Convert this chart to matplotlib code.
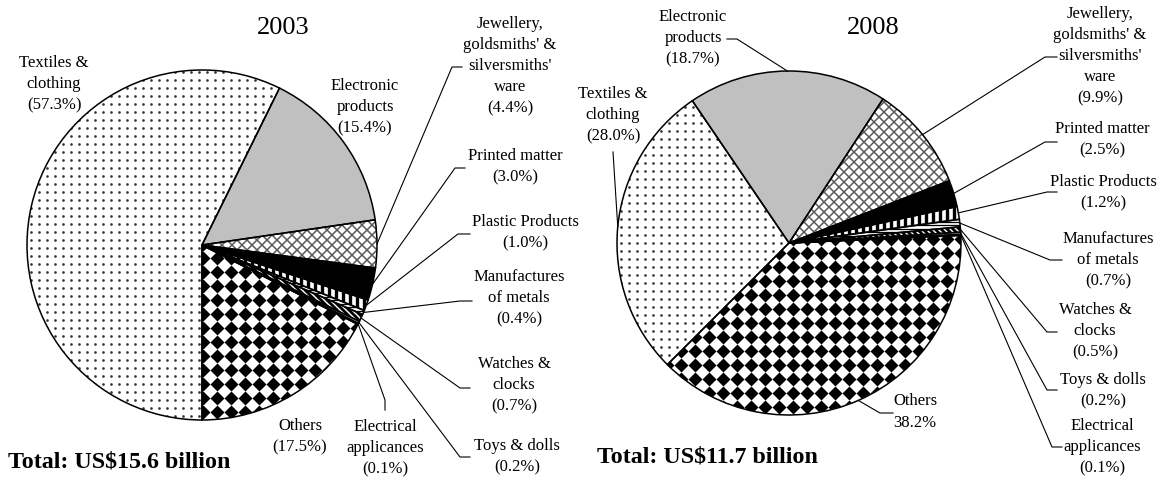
import numpy as np
import matplotlib
matplotlib.use("Agg")
import matplotlib.pyplot as plt
from matplotlib.patches import Wedge
from matplotlib.collections import LineCollection

plt.rcParams['font.family'] = ['Liberation Serif', 'DejaVu Serif']

# ---------------- data ----------------
categories = ["Textiles &\nclothing", "Electronic\nproducts",
              "Jewellery,\ngoldsmiths' &\nsilversmiths'\nware",
              "Printed matter", "Plastic Products", "Manufactures\nof metals",
              "Watches &\nclocks", "Toys & dolls", "Electrical\napplicances",
              "Others"]
share_2003 = [57.3, 15.4, 4.4, 3.0, 1.0, 0.4, 0.7, 0.2, 0.1, 17.5]
share_2008 = [28.0, 18.7, 9.9, 2.5, 1.2, 0.7, 0.5, 0.2, 0.1, 38.2]
years = ["2003", "2008"]
totals = ["Total: US$15.6 billion", "Total: US$11.7 billion"]
paren_2003 = [True] * 10
paren_2008 = [True] * 9 + [False]

# ---------------- styles ----------------
base_colors = ['white', '#c0c0c0', 'white', 'black', 'white', 'white',
               'white', 'white', 'white', 'white']
textures = ['dots', None, 'cross', None, 'vstripe', 'hstripe', 'dstripe',
            None, None, 'diamond']

W, H = 1168, 479
fig = plt.figure(figsize=(W / 100, H / 100), dpi=100)
ax = fig.add_axes([0, 0, 1, 1])

# layout in pixel coords (y downward): text centre, leader knee, leader end
layout_2003 = [
    ((54, 84), None, None),
    ((365, 107), None, None),
    ((510, 66), (452, 67), (462, 67)),
    ((515, 167), (455, 168), (465, 168)),
    ((525, 233), (458, 234), (470, 234)),
    ((519, 298), (460, 301), (472, 301)),
    ((514, 385), (460, 388), (470, 388)),
    ((517, 457), (460, 457), (470, 457)),
    ((385, 448), (385, 400), (385, 410)),
    ((300, 437), None, None),
]
layout_2008 = [
    ((613, 115), (613, 152), (613, 152)),
    ((693, 38), (737, 39), (727, 39)),
    ((1100, 56), (1045, 57), (1057, 57)),
    ((1102, 140), (1045, 142), (1057, 142)),
    ((1103, 193), (1047, 192), (1057, 192)),
    ((1108, 260), (1050, 260), (1062, 260)),
    ((1095, 331), (1047, 332), (1057, 332)),
    ((1103, 391), (1047, 390), (1057, 390)),
    ((1102, 447), (1052, 447), (1062, 447)),
    ((915, 412), (880, 413), (893, 413)),
]

LABEL_FS = 12
LINESP = 1.42


def Y(y):
    return H - y


def add_texture(kind, wedge, cx, cy, r):
    x0, x1 = cx - r - 20, cx + r + 20
    y0, y1 = cy - r - 20, cy + r + 20
    arts = []
    if kind == 'dots':
        gx, gy = np.meshgrid(np.arange(x0, x1, 8.0), np.arange(y0, y1, 8.0))
        ln, = ax.plot(gx.ravel(), gy.ravel(), 'o', ms=1.9, mec='none',
                      mfc='#303030', zorder=2)
        arts.append(ln)
    elif kind == 'diamond':
        gx, gy = np.meshgrid(np.arange(x0, x1, 14.0), np.arange(y0, y1, 14.0))
        ln, = ax.plot(gx.ravel(), gy.ravel(), 'D', ms=7.6, mec='none',
                      mfc='black', zorder=2)
        arts.append(ln)
    elif kind == 'cross':
        d = 10.0
        segs = []
        for c in np.arange(-2 * r - 60, 2 * r + 60, d):
            segs.append([(x0, y0 + c), (x1, y0 + c + (x1 - x0))])
            segs.append([(x0, y1 + c), (x1, y1 + c - (x1 - x0))])
        lc = LineCollection(segs, colors='#5a5a5a', linewidths=1.1, zorder=2)
        ax.add_collection(lc)
        arts.append(lc)
    elif kind == 'vstripe':
        segs = [[(x, y0), (x, y1)] for x in np.arange(x0, x1, 7.0)]
        lc = LineCollection(segs, colors='black', linewidths=2.4, zorder=2)
        ax.add_collection(lc)
        arts.append(lc)
    elif kind == 'hstripe':
        segs = [[(x0, y), (x1, y)] for y in np.arange(y0, y1, 3.5)]
        lc = LineCollection(segs, colors='black', linewidths=0.9, zorder=2)
        ax.add_collection(lc)
        arts.append(lc)
    elif kind == 'dstripe':
        segs = []
        for c in np.arange(-2 * r - 60, 2 * r + 60, 6.0):
            segs.append([(x0, y1 + c), (x1, y1 + c - (x1 - x0))])
        lc = LineCollection(segs, colors='black', linewidths=2.0, zorder=2)
        ax.add_collection(lc)
        arts.append(lc)
    for a in arts:
        a.set_clip_path(wedge)


def draw_pie(values, parens, cx, cy_px, r, start, layout, title, title_xy,
             total, total_xy):
    cy = Y(cy_px)
    wedges, _ = ax.pie(values, center=(cx, cy), radius=r, startangle=start,
                       counterclock=False, colors=base_colors,
                       wedgeprops=dict(linewidth=0, edgecolor='none'))
    for w in wedges:
        w.set_zorder(1)
    for w, kind in zip(wedges, textures):
        if kind:
            add_texture(kind, w, cx, cy, r)
    for w in wedges:
        ax.add_patch(Wedge(w.center, w.r, w.theta1, w.theta2, fill=False,
                           ec='black', lw=1.1, zorder=5))
    for i, (w, cat, v, par) in enumerate(zip(wedges, categories, values, parens)):
        (tx, ty), knee, end = layout[i]
        pct = f"({v:.1f}%)" if par else f"{v:.1f}%"
        ax.text(tx, Y(ty), f"{cat}\n{pct}", ha='center', va='center',
                multialignment='center', fontsize=LABEL_FS,
                linespacing=LINESP, zorder=6)
        if knee is not None:
            mid = np.radians((w.theta1 + w.theta2) / 2)
            px, py = cx + r * np.cos(mid), cy + r * np.sin(mid)
            ax.plot([px, knee[0], end[0]], [py, Y(knee[1]), Y(end[1])],
                    color='black', lw=0.8, zorder=6, solid_joinstyle='miter')
    ax.text(title_xy[0], Y(title_xy[1]), title, ha='center', va='center',
            fontsize=19, zorder=6)
    ax.text(total_xy[0], Y(total_xy[1]), total, ha='left', va='center',
            fontsize=17.3, fontweight='bold', zorder=6)


draw_pie(share_2003, paren_2003, 202, 245, 175, -90, layout_2003, years[0],
         (283, 28), totals[0], (8, 462))
draw_pie(share_2008, paren_2008, 789, 243, 172, -135, layout_2008, years[1],
         (873, 28), totals[1], (597, 457))

ax.set_xlim(0, W)
ax.set_ylim(0, H)
ax.set_aspect('auto')
ax.axis('off')
fig.savefig("out.png", dpi=100, facecolor='white')
